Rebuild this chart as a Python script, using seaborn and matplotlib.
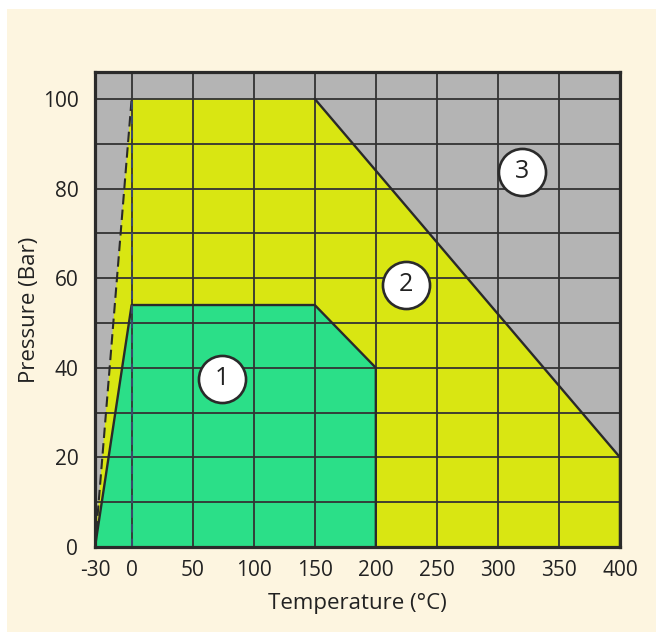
import numpy as np
import pandas as pd
import matplotlib
matplotlib.use("Agg")
import matplotlib.pyplot as plt
import seaborn as sns
from matplotlib.patches import Rectangle

# region outlines (temperature degC, pressure bar)
zone2_temp = [-30, 0, 150, 400, 400]
zone2_pres = [0, 100, 100, 20, 0]
zone1_temp = [-30, 0, 150, 200, 200]
zone1_pres = [0, 54, 54, 40, 0]

# label bubbles
label_text = ["1", "2", "3"]
label_temp = [74, 225, 320]
label_pres = [37.5, 58.5, 83.7]

x_ticks = [-30, 0, 50, 100, 150, 200, 250, 300, 350, 400]
y_ticks = [0, 20, 40, 60, 80, 100]

sns.set_theme(style="white")
plt.rcParams['font.family'] = ['Open Sans', 'DejaVu Sans']
plt.rcParams['axes.unicode_minus'] = False

cream = "#fdf5e0"
gray = "#b4b4b4"
yellow = "#d9e612"
green = "#2bdf88"
dark = "#2a2a2a"
txt = "#222222"

fig = plt.figure(figsize=(6.56, 6.39), dpi=100)
fig.patch.set_facecolor("white")
fig.patches.append(Rectangle((7/656, 7/639), 1 - 7/656, 1 - 16/639,
                             transform=fig.transFigure, facecolor=cream,
                             edgecolor="none", zorder=-10))

ax = fig.add_axes([95/656, 1 - 547/639, 525/656, 475/639])
ax.set_facecolor(gray)

ax.fill(zone2_temp, zone2_pres, color=yellow, zorder=1, lw=0)
ax.fill(zone1_temp, zone1_pres, color=green, zorder=1, lw=0)

# outlines
df2 = pd.DataFrame({"t": zone2_temp[2:], "p": zone2_pres[2:]})
sns.lineplot(data=df2, x="t", y="p", sort=False, estimator=None,
             color=dark, lw=1.7, ax=ax, zorder=4)
df1 = pd.DataFrame({"t": zone1_temp, "p": zone1_pres})
sns.lineplot(data=df1, x="t", y="p", sort=False, estimator=None,
             color=dark, lw=1.7, ax=ax, zorder=4)
ax.plot(zone2_temp[:2], zone2_pres[:2],
        color=dark, lw=1.5, ls=(0, (5, 2.5)), zorder=4)
ax.plot([0, 0], [0, 100], color="#3a4a6a", lw=1.5, ls=(0, (4, 3)), zorder=4)

# numbered bubbles
ax.scatter(label_temp, label_pres, s=1150, facecolor="white",
           edgecolor=dark, linewidth=1.9, zorder=6)
for s, t, p in zip(label_text, label_temp, label_pres):
    ax.text(t, p, s, ha="center", va="center", fontsize=18, color=txt, zorder=7)

ax.set_xlim(-30, 400)
ax.set_ylim(0, 106)
ax.set_xticks(x_ticks)
ax.set_yticks(y_ticks)
ax.set_xticks(np.arange(0, 400, 50), minor=True)
ax.set_yticks(np.arange(10, 106, 10), minor=True)
ax.grid(which="both", color="#333333", lw=1.3)
ax.set_axisbelow(False)
for gl in ax.get_xgridlines() + ax.get_ygridlines():
    gl.set_zorder(2)
ax.tick_params(which="both", length=0, labelsize=15, colors=txt)
ax.tick_params(axis="x", pad=9)
ax.tick_params(axis="y", pad=12)

for sp in ax.spines.values():
    sp.set_visible(True)
    sp.set_color(dark)
    sp.set_linewidth(2.3)
    sp.set_zorder(5)

ax.set_xlabel("Temperature (°C)", fontsize=16, color=txt, labelpad=9)
ax.set_ylabel("Pressure (Bar)", fontsize=16, color=txt, labelpad=2)

fig.savefig("out.png", dpi=100)
